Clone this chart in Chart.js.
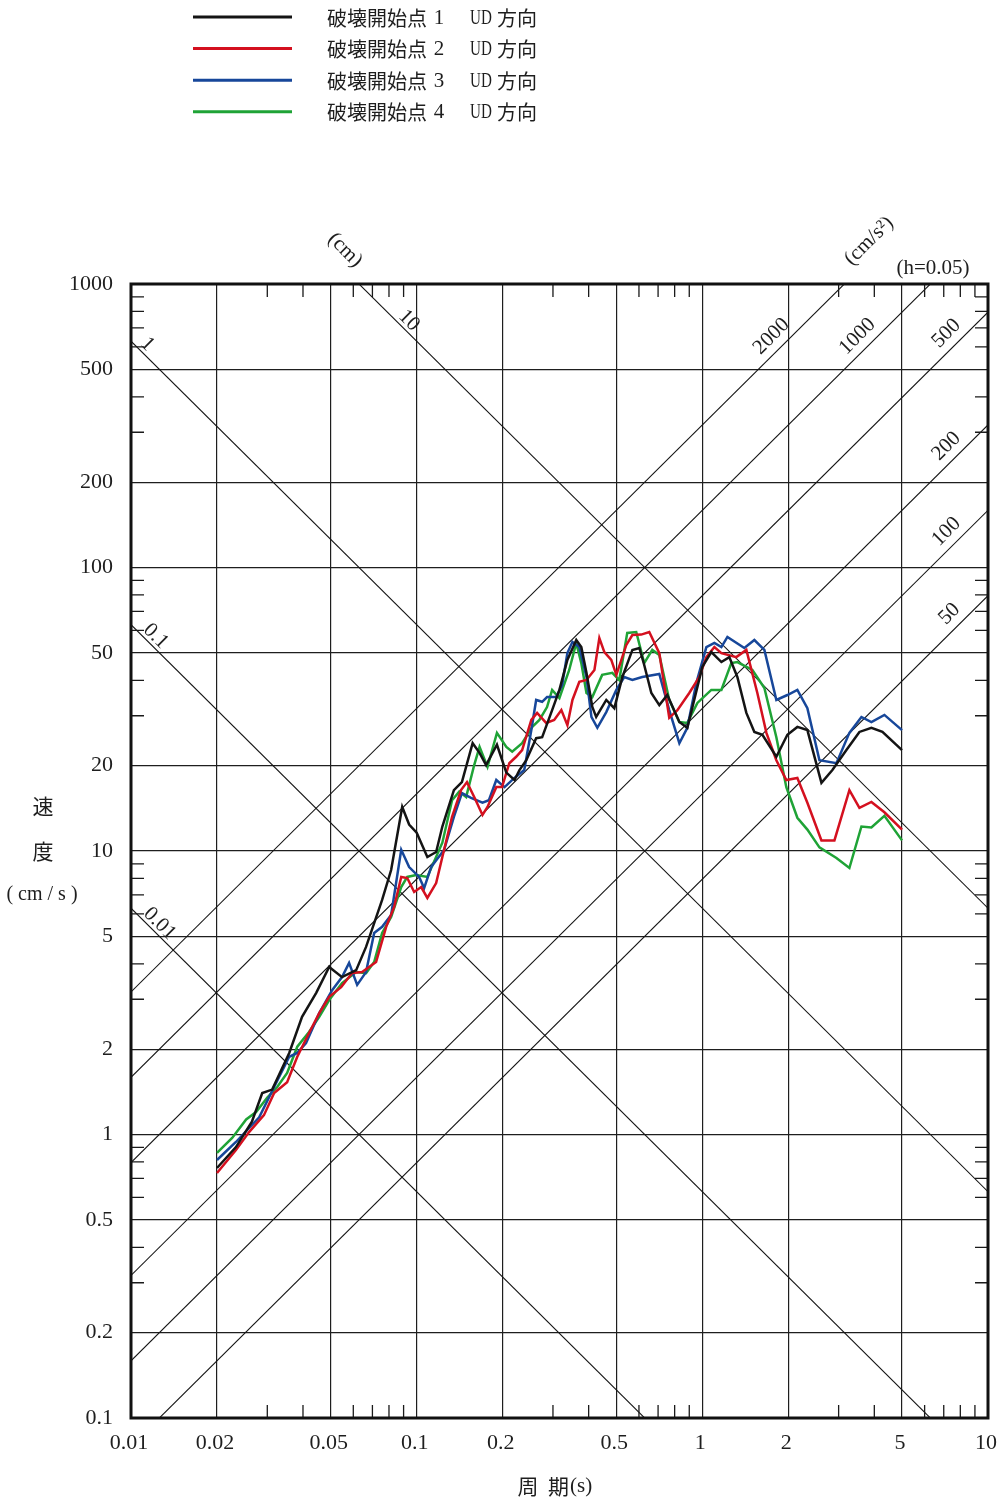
<!DOCTYPE html>
<html lang="ja">
<head>
<meta charset="UTF-8">
<title>速度応答スペクトル UD方向</title>
<script src="https://cdn.jsdelivr.net/npm/chart.js"></script>
<style>
  html, body { margin: 0; padding: 0; background: #fff; }
  #wrap { width: 1000px; height: 1503px; }
</style>
</head>
<body>
<div id="wrap"><canvas id="spec" width="1000" height="1503"></canvas></div>
<script>
// series (period in s, pseudo velocity in cm/s)
const seriesNames = ['破壊開始点１　UD 方向', '破壊開始点２　UD 方向', '破壊開始点３　UD 方向', '破壊開始点４　UD 方向'];
const seriesNo = ['1', '2', '3', '4'];
const seriesColors = ['#141414', '#d4101f', '#17479a', '#1fa336'];

const period1 = [0.02,0.0233,0.0265,0.0288,0.0312,0.0358,0.0397,0.0445,0.0494,0.0548,0.0614,0.0665,0.0757,0.0814,0.089,0.0941,0.1,0.109,0.117,0.123,0.135,0.144,0.157,0.166,0.175,0.191,0.206,0.22,0.229,0.242,0.262,0.275,0.298,0.316,0.337,0.362,0.377,0.393,0.412,0.425,0.461,0.492,0.525,0.569,0.602,0.626,0.663,0.707,0.754,0.831,0.886,1.0,1.075,1.166,1.243,1.326,1.426,1.521,1.623,1.816,1.985,2.151,2.332,2.612,2.853,3.194,3.547,3.907,4.27,5.0];
const sv1 = [0.762,0.903,1.11,1.40,1.44,1.94,2.60,3.16,3.90,3.59,3.80,4.59,6.72,8.57,14.3,12.4,11.6,9.52,9.92,12.2,16.4,17.5,24.0,22.2,20.1,23.7,18.9,17.8,19.3,20.9,25.0,25.2,31.4,37.0,47.2,55.5,52.4,42.5,32.2,29.7,34.1,31.9,41.1,51.2,52.0,45.3,36.1,32.7,35.5,28.5,27.2,44.6,50.3,46.4,48.3,41.1,30.7,26.3,25.7,21.5,25.7,27.4,26.7,17.4,19.3,22.7,26.3,27.2,26.3,22.7];

const period2 = [0.02,0.0233,0.0259,0.0292,0.0317,0.0352,0.0382,0.042,0.0456,0.0494,0.0544,0.0594,0.0644,0.0721,0.0782,0.0834,0.0883,0.0927,0.098,0.1037,0.109,0.117,0.123,0.133,0.143,0.15,0.159,0.17,0.177,0.19,0.199,0.211,0.223,0.234,0.252,0.264,0.284,0.303,0.321,0.337,0.351,0.371,0.393,0.419,0.436,0.454,0.48,0.5,0.542,0.569,0.611,0.652,0.707,0.766,0.818,0.9,0.976,1.033,1.102,1.166,1.315,1.426,1.558,1.676,1.816,1.968,2.151,2.332,2.612,2.9,3.272,3.547,3.907,4.339,5.0];
const sv2 = [0.731,0.882,1.02,1.17,1.40,1.53,1.88,2.28,2.68,3.06,3.31,3.71,3.74,4.06,5.40,6.35,8.10,8.03,7.17,7.46,6.83,7.71,9.52,13.2,16.4,17.5,15.5,13.4,14.3,16.8,16.8,20.4,21.5,22.7,29.0,30.7,28.3,29.0,31.4,27.8,34.1,39.5,40.1,43.5,56.4,50.3,47.2,41.8,53.3,57.8,58.0,59.2,49.9,29.5,31.4,36.1,41.1,48.3,52.4,49.9,48.3,51.2,36.1,26.1,20.9,17.8,18.1,14.8,10.9,10.9,16.4,14.2,14.9,13.7,11.9];

const period3 = [0.02,0.0233,0.0281,0.0317,0.0358,0.0382,0.041,0.0456,0.0506,0.0548,0.058,0.0619,0.0665,0.071,0.0757,0.0814,0.0883,0.0941,0.102,0.1062,0.1124,0.1248,0.135,0.144,0.155,0.17,0.179,0.19,0.203,0.22,0.238,0.252,0.262,0.275,0.286,0.308,0.323,0.337,0.351,0.371,0.393,0.409,0.429,0.461,0.5,0.533,0.569,0.616,0.707,0.766,0.831,0.886,0.953,1.033,1.102,1.166,1.224,1.403,1.521,1.649,1.816,1.985,2.151,2.332,2.57,2.947,3.272,3.605,3.907,4.339,5.0];
const sv3 = [0.813,0.941,1.15,1.47,1.88,1.94,2.10,2.68,3.23,3.59,4.03,3.37,3.74,5.14,5.40,5.95,10.1,8.78,8.10,7.40,8.78,10.1,13.2,16.0,15.4,14.8,15.1,17.8,16.8,18.1,19.3,26.7,34.1,33.6,34.9,34.9,38.5,49.9,54.6,52.4,41.1,29.7,27.2,30.9,37.0,41.1,40.1,41.1,42.1,31.4,24.0,27.2,39.2,52.4,54.2,52.4,56.9,52.0,55.5,51.2,34.1,35.5,37.0,31.9,20.9,20.4,26.1,29.7,28.5,30.2,26.7];

const period4 = [0.02,0.0226,0.0253,0.0274,0.03,0.0325,0.0352,0.0382,0.042,0.0456,0.0494,0.0548,0.0614,0.0665,0.071,0.0757,0.0814,0.0883,0.0927,0.0996,0.109,0.123,0.133,0.141,0.149,0.159,0.166,0.177,0.191,0.206,0.216,0.234,0.254,0.269,0.286,0.298,0.316,0.342,0.362,0.377,0.393,0.412,0.446,0.484,0.512,0.546,0.587,0.626,0.668,0.707,0.766,0.831,0.886,0.961,1.075,1.166,1.263,1.326,1.497,1.649,1.816,1.968,2.151,2.332,2.57,2.947,3.272,3.605,3.907,4.339,5.0];
const sv4 = [0.861,0.972,1.13,1.20,1.35,1.47,1.65,2.04,2.30,2.60,2.98,3.42,3.74,3.71,4.06,5.14,5.85,7.46,8.10,8.23,8.10,10.7,15.1,16.2,15.5,20.1,23.3,19.8,26.1,23.3,22.4,24.0,27.4,29.0,32.2,37.0,34.6,43.5,54.2,46.0,36.1,34.9,41.8,42.5,40.1,58.8,59.2,46.0,51.2,49.1,34.1,28.5,28.3,33.3,37.0,37.0,46.0,46.4,43.5,37.6,25.2,16.8,13.1,11.9,10.3,9.45,8.71,12.2,12.1,13.3,10.9];

// axes
const xGridValues = [0.02, 0.05, 0.1, 0.2, 0.5, 1, 2, 5];
const yGridValues = [0.2, 0.5, 1, 2, 5, 10, 20, 50, 100, 200, 500];
const xTickLabels = ['0.01', '0.02', '0.05', '0.1', '0.2', '0.5', '1', '2', '5', '10'];
const yTickLabels = ['0.1', '0.2', '0.5', '1', '2', '5', '10', '20', '50', '100', '200', '500', '1000'];
const minorMantissa = [3, 4, 6, 7, 8, 9];

// tripartite guide lines
const dispLines = [0.01, 0.1, 1, 10];            // cm
const dispLabelAt = [0.0126, 0.0122, 0.0114, 0.094];
const accLines = [50, 100, 200, 500, 1000, 2000]; // cm/s2
const accLabelAt = [7.33, 7.15, 7.15, 7.15, 3.49, 1.745];

const TWO_PI = 2 * Math.PI;
const SERIF = "'Liberation Serif', 'DejaVu Serif', serif";
const JP = "'Noto Sans CJK JP', 'Noto Sans CJK SC', sans-serif";

function pairUp(ts, vs) {
  return ts.map((t, i) => ({ x: t, y: vs[i] }));
}

const paper = {
  id: 'paper',
  beforeDatasetsDraw(chart) {
    const { ctx, chartArea: a, scales: { x, y } } = chart;
    ctx.save();
    ctx.beginPath();
    ctx.rect(a.left, a.top, a.right - a.left, a.bottom - a.top);
    ctx.clip();
    ctx.strokeStyle = '#141414';
    ctx.lineWidth = 1.1;
    // displacement lines Sv = 2*pi*D/T
    dispLines.forEach(d => {
      ctx.beginPath();
      ctx.moveTo(x.getPixelForValue(0.01), y.getPixelForValue(TWO_PI * d / 0.01));
      ctx.lineTo(x.getPixelForValue(10), y.getPixelForValue(TWO_PI * d / 10));
      ctx.stroke();
    });
    // acceleration lines Sv = A*T/(2*pi)
    accLines.forEach(acc => {
      ctx.beginPath();
      ctx.moveTo(x.getPixelForValue(0.01), y.getPixelForValue(acc * 0.01 / TWO_PI));
      ctx.lineTo(x.getPixelForValue(10), y.getPixelForValue(acc * 10 / TWO_PI));
      ctx.stroke();
    });
    // minor ticks on all four sides
    ctx.lineWidth = 1.3;
    ctx.strokeStyle = '#1a1a1a';
    const len = 13;
    for (let k = -2; k <= 0; k++) {
      minorMantissa.forEach(m => {
        const px = x.getPixelForValue(m * Math.pow(10, k));
        ctx.beginPath();
        ctx.moveTo(px, a.top); ctx.lineTo(px, a.top + len);
        ctx.moveTo(px, a.bottom); ctx.lineTo(px, a.bottom - len);
        ctx.stroke();
      });
    }
    for (let k = -1; k <= 2; k++) {
      minorMantissa.forEach(m => {
        const py = y.getPixelForValue(m * Math.pow(10, k));
        ctx.beginPath();
        ctx.moveTo(a.left, py); ctx.lineTo(a.left + len, py);
        ctx.moveTo(a.right, py); ctx.lineTo(a.right - len, py);
        ctx.stroke();
      });
    }
    ctx.restore();
  },
  afterDraw(chart) {
    const { ctx, chartArea: a, scales: { x, y } } = chart;
    ctx.save();
    // frame
    ctx.strokeStyle = '#111';
    ctx.lineWidth = 3;
    ctx.strokeRect(a.left, a.top, a.right - a.left, a.bottom - a.top);

    ctx.fillStyle = '#1e1e1e';
    // tick labels
    ctx.font = '22px ' + SERIF;
    ctx.textAlign = 'right';
    ctx.textBaseline = 'middle';
    yTickLabels.forEach(s => ctx.fillText(s, a.left - 18, y.getPixelForValue(parseFloat(s))));
    ctx.textAlign = 'center';
    xTickLabels.forEach(s => ctx.fillText(s, x.getPixelForValue(parseFloat(s)) - 2, a.bottom + 25));

    // axis titles
    ctx.font = '21px ' + JP;
    ctx.fillText('速', 43, 806);
    ctx.fillText('度', 43, 851);
    ctx.font = '20px ' + SERIF;
    ctx.fillText('( cm / s )', 42, 895);
    ctx.font = '21px ' + JP;
    ctx.fillText('周', 528, 1486);
    ctx.textAlign = 'left';
    ctx.fillText('期', 548, 1486);
    ctx.font = '21px ' + SERIF;
    ctx.fillText('(s)', 570, 1486);

    // guide line labels
    ctx.textAlign = 'center';
    ctx.font = '21px ' + SERIF;
    dispLines.forEach((d, i) => {
      const t = dispLabelAt[i];
      const px = x.getPixelForValue(t);
      const py = y.getPixelForValue(TWO_PI * d / t) - 13;
      ctx.save();
      ctx.translate(px, py);
      ctx.rotate(Math.PI / 4);
      ctx.fillText(String(d), 0, 0);
      ctx.restore();
    });
    accLines.forEach((acc, i) => {
      const t = accLabelAt[i];
      const px = x.getPixelForValue(t);
      const py = y.getPixelForValue(acc * t / TWO_PI) - 20;
      ctx.save();
      ctx.translate(px, py);
      ctx.rotate(-Math.PI / 4);
      ctx.fillText(String(acc), 0, 0);
      ctx.restore();
    });
    ctx.save();
    ctx.translate(345, 250);
    ctx.rotate(Math.PI / 4);
    ctx.fillText('(cm)', 0, 0);
    ctx.restore();
    ctx.save();
    ctx.translate(869, 241);
    ctx.rotate(-Math.PI / 4);
    ctx.fillText('(cm/s²)', 0, 0);
    ctx.restore();
    ctx.fillText('(h=0.05)', 933, 268);

    // legend
    chart.data.datasets.forEach((ds, i) => {
      const ly = 17 + i * 31.6;
      ctx.strokeStyle = ds.borderColor;
      ctx.lineWidth = 3;
      ctx.beginPath();
      ctx.moveTo(193, ly); ctx.lineTo(292, ly);
      ctx.stroke();
      ctx.fillStyle = '#1e1e1e';
      ctx.textAlign = 'left';
      ctx.font = '20px ' + JP;
      ctx.fillText('破壊開始点', 327, ly + 1);
      ctx.fillText('方向', 497, ly + 1);
      ctx.font = '21px ' + SERIF;
      ctx.textAlign = 'center';
      ctx.fillText(seriesNo[i], 439, ly + 1);
      ctx.textAlign = 'left';
      ctx.save();
      ctx.translate(470, ly + 1);
      ctx.scale(0.72, 1);
      ctx.fillText('UD', 0, 0);
      ctx.restore();
    });
    ctx.restore();
  }
};

const periods = [period1, period2, period3, period4];
const values = [sv1, sv2, sv3, sv4];

new Chart(document.getElementById('spec'), {
  type: 'scatter',
  data: {
    datasets: seriesNames.map((name, i) => ({
      label: name,
      data: pairUp(periods[i], values[i]),
      borderColor: seriesColors[i],
      backgroundColor: seriesColors[i],
      showLine: true,
      pointRadius: 0,
      borderWidth: 2.5,
      tension: 0,
      fill: false
    }))
  },
  options: {
    responsive: false,
    devicePixelRatio: 1,
    animation: false,
    layout: { padding: { left: 131, right: 12, top: 284, bottom: 85 } },
    plugins: { legend: { display: false }, tooltip: { enabled: false } },
    scales: {
      x: {
        type: 'logarithmic', min: 0.01, max: 10,
        afterBuildTicks: s => { s.ticks = xGridValues.map(v => ({ value: v })); },
        ticks: { display: false },
        grid: { color: '#1e1e1e', lineWidth: 1.2, drawTicks: false },
        border: { display: false }
      },
      y: {
        type: 'logarithmic', min: 0.1, max: 1000,
        afterBuildTicks: s => { s.ticks = yGridValues.map(v => ({ value: v })); },
        ticks: { display: false },
        grid: { color: '#1e1e1e', lineWidth: 1.2, drawTicks: false },
        border: { display: false }
      }
    }
  },
  plugins: [paper]
});
</script>
</body>
</html>
